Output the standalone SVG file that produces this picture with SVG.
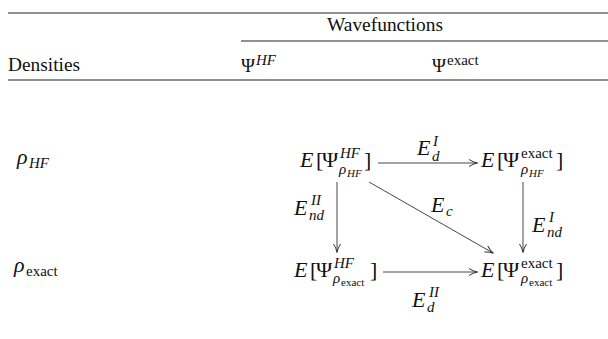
<svg xmlns="http://www.w3.org/2000/svg" width="608" height="339" viewBox="0 0 608 339">
<defs>
<style>
text{font-family:"Liberation Serif","DejaVu Serif",serif;fill:#111}
.h{font-size:19px}
.m{font-size:22px}
.s{font-size:15px}
.ss{font-size:11px}
.i{font-style:italic}
.rule{stroke:#222;stroke-width:1.1}
.c{stroke:#333;stroke-width:0.9;fill:none}
</style>
<marker id="ah" viewBox="0 0 10 10" refX="9" refY="5" markerWidth="10" markerHeight="10" markerUnits="userSpaceOnUse" orient="auto">
<path d="M1,1.5 Q5,4.2 9.5,5 Q5,5.8 1,8.5" fill="none" stroke="#333" stroke-width="1"/>
</marker>
</defs>
<rect width="608" height="339" fill="#fff"/>
<g id="table">
<line class="rule" x1="8" y1="13" x2="608" y2="13"/>
<line class="rule" x1="241" y1="41" x2="608" y2="41"/>
<line class="rule" x1="8" y1="80" x2="608" y2="80" stroke-width="1.3"/>
<text class="h" x="385" y="31" text-anchor="middle" textLength="116" lengthAdjust="spacingAndGlyphs">Wavefunctions</text>
<text class="h" x="8" y="71" textLength="72" lengthAdjust="spacingAndGlyphs">Densities</text>
<text class="h" x="241" y="72">Ψ</text>
<text class="s i" x="256" y="65">HF</text>
<text class="h" x="432" y="72">Ψ</text>
<text class="s" x="447" y="65">exact</text>
<text class="m i" x="17" y="164">ρ</text>
<text class="s i" x="29" y="168">HF</text>
<text class="m i" x="14" y="272">ρ</text>
<text class="s" x="26" y="276">exact</text>
</g>
<g id="connectors">
<line class="c" x1="378" y1="163" x2="477" y2="163" marker-end="url(#ah)"/>
<line class="c" x1="337" y1="182" x2="337" y2="252" marker-end="url(#ah)"/>
<line class="c" x1="523" y1="182" x2="523" y2="252" marker-end="url(#ah)"/>
<line class="c" x1="369" y1="182" x2="493" y2="253" marker-end="url(#ah)"/>
<line class="c" x1="383" y1="272" x2="477" y2="272" marker-end="url(#ah)"/>
</g>
<g id="labels">
<text class="m i" x="417" y="155">E</text>
<text class="s i" x="433" y="146">I</text>
<text class="s i" x="432" y="161">d</text>
<text class="m i" x="431" y="212">E</text>
<text class="s i" x="446" y="216">c</text>
<text class="m i" x="294" y="215">E</text>
<text class="s i" x="311" y="205">II</text>
<text class="s i" x="309" y="220">nd</text>
<text class="m i" x="532" y="232">E</text>
<text class="s i" x="549" y="222">I</text>
<text class="s i" x="547" y="237">nd</text>
<text class="m i" x="412" y="307">E</text>
<text class="s i" x="429" y="297">II</text>
<text class="s i" x="427" y="312">d</text>
</g>
<g id="n1">
<text class="m i" x="300" y="167">E</text>
<text class="m" x="316" y="167">[</text>
<text class="m" x="322" y="167">Ψ</text>
<text class="s i" x="340" y="158">HF</text>
<text class="s i" x="339" y="174">ρ</text>
<text class="ss i" x="347" y="177">HF</text>
<text class="m" x="364" y="167">]</text>
</g>
<g id="n2">
<text class="m i" x="481" y="167">E</text>
<text class="m" x="497" y="167">[</text>
<text class="m" x="503" y="167">Ψ</text>
<text class="s" x="521" y="158">exact</text>
<text class="s i" x="521" y="174">ρ</text>
<text class="ss i" x="529" y="177">HF</text>
<text class="m" x="556" y="167">]</text>
</g>
<g id="n3">
<text class="m i" x="294" y="277">E</text>
<text class="m" x="310" y="277">[</text>
<text class="m" x="316" y="277">Ψ</text>
<text class="s i" x="334" y="268">HF</text>
<text class="s i" x="333" y="283">ρ</text>
<text class="ss" x="341" y="286">exact</text>
<text class="m" x="370" y="277">]</text>
</g>
<g id="n4">
<text class="m i" x="481" y="277">E</text>
<text class="m" x="497" y="277">[</text>
<text class="m" x="503" y="277">Ψ</text>
<text class="s" x="521" y="268">exact</text>
<text class="s i" x="521" y="283">ρ</text>
<text class="ss" x="529" y="286">exact</text>
<text class="m" x="556" y="277">]</text>
</g>
</svg>
